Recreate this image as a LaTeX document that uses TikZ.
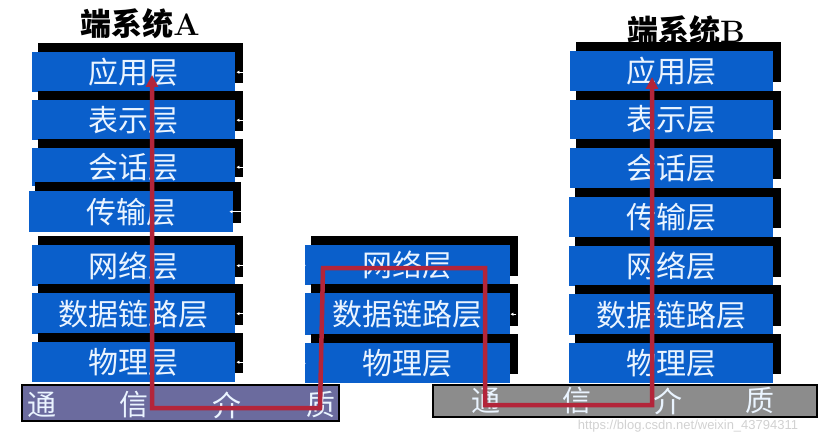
\documentclass[tikz,border=0pt]{standalone}
\usepackage{fontspec}
\newfontfamily\cjk{Noto Sans CJK SC}
\newfontfamily\wmfont{Liberation Sans}
\usetikzlibrary{arrows.meta}
\definecolor{layerblue}{HTML}{0A5FCB}
\definecolor{pathred}{HTML}{B3253A}
\definecolor{mediumA}{HTML}{6B6B9E}
\definecolor{mediumB}{HTML}{8C8C8C}
\definecolor{textwhite}{HTML}{EAF4FF}
\tikzset{
  layerbox/.style={fill=layerblue, text=textwhite, inner sep=0pt, anchor=north west,
    font=\cjk\fontsize{30}{32}\selectfont},
  layershadow/.style={fill=black},
  mediumbar/.style={draw=black, line width=1.5pt, inner sep=0pt, anchor=north west},
  mediumtext/.style={text=textwhite, font=\cjk\fontsize{29}{31}\selectfont, inner sep=0pt},
  titletext/.style={text=black, font=\cjk\bfseries\fontsize{31}{33}\selectfont, inner sep=0pt},
  tick/.style={white, line width=1pt, -{Latex[length=3pt,width=3.5pt]}},
  redpath/.style={draw=pathred, line width=4.5pt, line join=miter,
    {Triangle[length=12pt,width=12pt]}-{Triangle[length=12pt,width=12pt]}},
}
% #1 name, #2 left, #3 top, #4 right, #5 bottom, #6 text
\newcommand{\osilayer}[6]{%
  \fill[layershadow] (#2+6,#3-9) rectangle (#4+8,#5-9);
  \node[layerbox, minimum width={#4-#2}, minimum height={#5-#3}] (#1) at (#2,#3) {#6};
}
\begin{document}
\begin{tikzpicture}[x=1pt,y=-1pt]
\useasboundingbox (0,0) rectangle (834,438);

% titles
\node[titletext] (titleA) at (140,24) {端系统{\rmfamily\bfseries A}};
\node[titletext] (titleB) at (686,31) {端系统{\rmfamily\bfseries B}};

% system A
\osilayer{A1}{32}{52}{235}{92}{应用层}
\osilayer{A2}{32}{100}{235}{140}{表示层}
\osilayer{A3}{32}{148}{235}{186}{会话层}
\osilayer{A4}{29}{191}{233}{232}{传输层}
\osilayer{A5}{32}{245}{235}{286}{网络层}
\osilayer{A6}{32}{293}{235}{334}{数据链路层}
\osilayer{A7}{32}{342}{235}{382}{物理层}

% intermediate node
\osilayer{M5}{305}{245}{510}{285}{网络层}
\osilayer{M6}{305}{293}{510}{335}{数据链路层}
\osilayer{M7}{305}{343}{510}{383}{物理层}

% system B
\osilayer{B1}{570}{51}{773}{91}{应用层}
\osilayer{B2}{570}{100}{773}{139}{表示层}
\osilayer{B3}{570}{148}{773}{188}{会话层}
\osilayer{B4}{569}{197}{773}{237}{传输层}
\osilayer{B5}{569}{246}{773}{286}{网络层}
\osilayer{B6}{569}{294}{773}{335}{数据链路层}
\osilayer{B7}{569}{343}{773}{383}{物理层}

% small white ticks on the right of stack A
\foreach \n in {A1,A2,A3,A5,A6,A7}{
  \draw[tick] ([xshift=8pt]\n.east) -- ([xshift=1pt]\n.east);
}
\draw[tick] ([xshift=8pt]A4.east) -- ([xshift=-4pt]A4.east);
\draw[tick] ([xshift=6pt]M6.east) -- ([xshift=0pt]M6.east);
\draw[tick] ([xshift=-4pt]M5.west) -- ([xshift=1pt]M5.west);
\draw[tick] ([xshift=-4pt]M7.west) -- ([xshift=1pt]M7.west);

% communication media
\node[mediumbar, fill=mediumA, minimum width=317pt, minimum height=36pt] (medA) at (21,384) {};
\node[mediumbar, fill=mediumB, minimum width=384pt, minimum height=32pt] (medB) at (432,384) {};
\node[mediumtext] (tA1) at (42,405) {通};
\node[mediumtext] (tA2) at (134,405) {信};
\node[mediumtext] (tA3) at (227,405) {介};
\node[mediumtext] (tA4) at (321,405) {质};
\node[mediumtext] (tB1) at (486,401) {通};
\node[mediumtext] (tB2) at (577,401) {信};
\node[mediumtext] (tB3) at (668,401) {介};
\node[mediumtext] (tB4) at (760,401) {质};

% red data path
\coordinate (rA) at (152,75);
\coordinate (r1) at (152,408);
\coordinate (r2) at (320,408);
\coordinate (r3) at (323,268);
\coordinate (r4) at (485,268);
\coordinate (r5) at (485,405);
\coordinate (r6) at (652,405);
\coordinate (rB) at (652,77);
\draw[redpath] (rA) -- (r1) -- (r2) -- (r3) -- (r4) -- (r5) -- (r6) -- (rB);

% watermark
\node[text=black!18, font=\wmfont\fontsize{13}{15}\selectfont, inner sep=0pt] (wm) at (688,426) {https://blog.csdn.net/weixin\_43794311};
\end{tikzpicture}
\end{document}
